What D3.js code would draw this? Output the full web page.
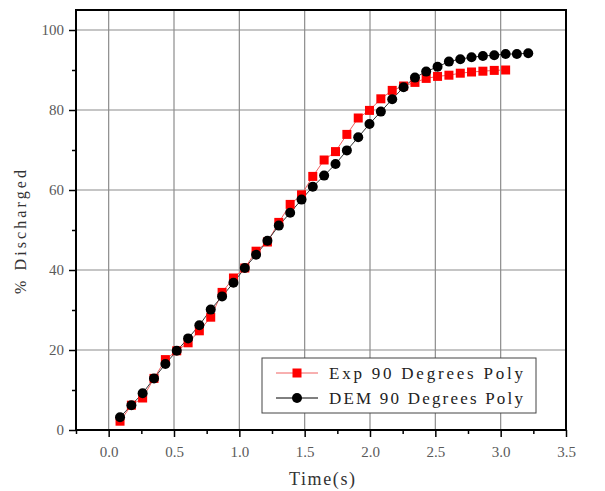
<!DOCTYPE html>
<html>
<head>
<meta charset="utf-8">
<script src="https://cdn.jsdelivr.net/npm/d3@7"></script>
<style>
  body { margin: 0; background: #fff; }
  svg { display: block; }
</style>
</head>
<body>
<div id="chart"></div>
<script>
// time points (s), shared by both series
var times = [0.087, 0.174, 0.260, 0.347, 0.434, 0.521, 0.608, 0.694, 0.781, 0.868,
             0.955, 1.042, 1.128, 1.215, 1.302, 1.389, 1.476, 1.562, 1.649, 1.736,
             1.823, 1.910, 1.996, 2.083, 2.170, 2.257, 2.344, 2.430, 2.517, 2.604,
             2.691, 2.777, 2.864, 2.951, 3.038, 3.124, 3.211];
// % discharged, experiment (red squares)
var expValues = [2.2, 6.2, 8.0, 12.9, 17.6, 19.8, 21.8, 24.8, 28.2, 34.4,
                 38.0, 40.5, 44.7, 47.0, 51.9, 56.4, 58.8, 63.4, 67.5, 69.6,
                 73.9, 78.0, 79.9, 82.8, 84.9, 86.0, 86.9, 87.9, 88.4, 88.7,
                 89.2, 89.5, 89.7, 89.9, 90.0];
// % discharged, DEM (black circles)
var demValues = [3.2, 6.2, 9.2, 12.9, 16.5, 19.8, 22.9, 26.2, 30.1, 33.4,
                 36.8, 40.5, 43.8, 47.3, 51.1, 54.3, 57.6, 60.8, 63.6, 66.5,
                 69.9, 73.2, 76.5, 79.6, 82.7, 85.7, 88.1, 89.6, 90.8, 92.1,
                 92.7, 93.2, 93.5, 93.7, 94.0, 94.0, 94.2];
var xTicks = [0.0, 0.5, 1.0, 1.5, 2.0, 2.5, 3.0, 3.5];
var yTicks = [0, 20, 40, 60, 80, 100];
var legendNames = ["Exp 90 Degrees Poly", "DEM 90 Degrees Poly"];

var pL = 76, pR = 566, pT = 10, pB = 430;

var svg = d3.select("#chart").append("svg").attr("width", 605).attr("height", 491);
svg.append("rect").attr("width", 605).attr("height", 491).attr("fill", "#fff");

var x = d3.scaleLinear().domain([-0.25, 3.5]).range([pL, pR]);
var y = d3.scaleLinear().domain([0, 105]).range([pB, pT]);

var serif = "'Liberation Serif', 'DejaVu Serif', serif";

// grid
svg.append("g").selectAll("line").data(xTicks.filter(d => d < 3.5)).join("line")
  .attr("x1", d => x(d)).attr("x2", d => x(d)).attr("y1", pT).attr("y2", pB)
  .attr("stroke", "#8c8c8c").attr("stroke-width", 1.2);
svg.append("g").selectAll("line").data(yTicks.filter(d => d > 0)).join("line")
  .attr("x1", pL).attr("x2", pR).attr("y1", d => y(d)).attr("y2", d => y(d))
  .attr("stroke", "#8c8c8c").attr("stroke-width", 1.2);

// minor ticks
var xMinor = d3.range(-0.25, 3.5, 0.5);
var yMinor = d3.range(10, 105, 20);
svg.append("g").attr("transform", "translate(0," + pB + ")")
  .call(d3.axisBottom(x).tickValues(xMinor).tickSize(4).tickFormat(""))
  .call(g => g.select(".domain").remove())
  .selectAll("line").attr("stroke", "#000").attr("stroke-width", 1.5);
svg.append("g").attr("transform", "translate(" + pL + ",0)")
  .call(d3.axisLeft(y).tickValues(yMinor).tickSize(4).tickFormat(""))
  .call(g => g.select(".domain").remove())
  .selectAll("line").attr("stroke", "#000").attr("stroke-width", 1.5);

// major axes
var xAxis = svg.append("g").attr("transform", "translate(0," + pB + ")")
  .call(d3.axisBottom(x).tickValues(xTicks).tickSize(7).tickPadding(9).tickFormat(d3.format(".1f")));
var yAxis = svg.append("g").attr("transform", "translate(" + pL + ",0)")
  .call(d3.axisLeft(y).tickValues(yTicks).tickSize(7).tickPadding(5));
[xAxis, yAxis].forEach(function (g) {
  g.select(".domain").remove();
  g.selectAll("line").attr("stroke", "#000").attr("stroke-width", 1.5);
  g.selectAll("text").style("font-family", serif).style("font-size", "15px").attr("fill", "#5a5a5a");
});

// frame
svg.append("rect").attr("x", pL).attr("y", pT).attr("width", pR - pL).attr("height", pB - pT)
  .attr("fill", "none").attr("stroke", "#000").attr("stroke-width", 2);

// axis titles
svg.append("text").attr("x", (pL + pR) / 2 + 1).attr("y", 485).attr("text-anchor", "middle")
  .attr("textLength", 66).attr("lengthAdjust", "spacing")
  .style("font-family", serif).style("font-size", "18px").attr("fill", "#333").text("Time(s)");
svg.append("text").attr("transform", "translate(26,232) rotate(-90)")
  .attr("text-anchor", "middle").attr("textLength", 124).attr("lengthAdjust", "spacing")
  .style("font-family", serif).style("font-size", "16px").attr("fill", "#333").text("% Discharged");

// series
var expData = expValues.map((v, i) => ({t: times[i], v: v}));
var demData = demValues.map((v, i) => ({t: times[i], v: v}));
var line = d3.line().x(d => x(d.t)).y(d => y(d.v));

svg.append("path").datum(expData).attr("d", line).attr("fill", "none")
  .attr("stroke", "#f06060").attr("stroke-width", 1);
svg.append("path").datum(demData).attr("d", line).attr("fill", "none")
  .attr("stroke", "#333").attr("stroke-width", 1);

var sq = 9, rad = 5;
svg.append("g").selectAll("rect").data(expData).join("rect")
  .attr("x", d => x(d.t) - sq / 2).attr("y", d => y(d.v) - sq / 2)
  .attr("width", sq).attr("height", sq).attr("fill", "#f00");
svg.append("g").selectAll("circle").data(demData).join("circle")
  .attr("cx", d => x(d.t)).attr("cy", d => y(d.v)).attr("r", rad).attr("fill", "#000");

// legend
var lg = svg.append("g").attr("transform", "translate(262,358)");
lg.append("rect").attr("width", 274).attr("height", 55).attr("fill", "#fff")
  .attr("stroke", "#444").attr("stroke-width", 1);
legendNames.forEach(function (name, i) {
  var cy = 15 + i * 25;
  var col = i === 0 ? "#f06060" : "#000";
  lg.append("line").attr("x1", 14).attr("x2", 56).attr("y1", cy).attr("y2", cy)
    .attr("stroke", col).attr("stroke-width", 1);
  if (i === 0) {
    lg.append("rect").attr("x", 35 - sq / 2).attr("y", cy - sq / 2).attr("width", sq).attr("height", sq).attr("fill", "#f00");
  } else {
    lg.append("circle").attr("cx", 35).attr("cy", cy).attr("r", rad).attr("fill", "#000");
  }
  lg.append("text").attr("x", 67).attr("y", cy + 5.5).attr("textLength", 194).attr("lengthAdjust", "spacing")
    .style("font-family", serif).style("font-size", "17px").attr("fill", "#222").text(name);
});
</script>
</body>
</html>
